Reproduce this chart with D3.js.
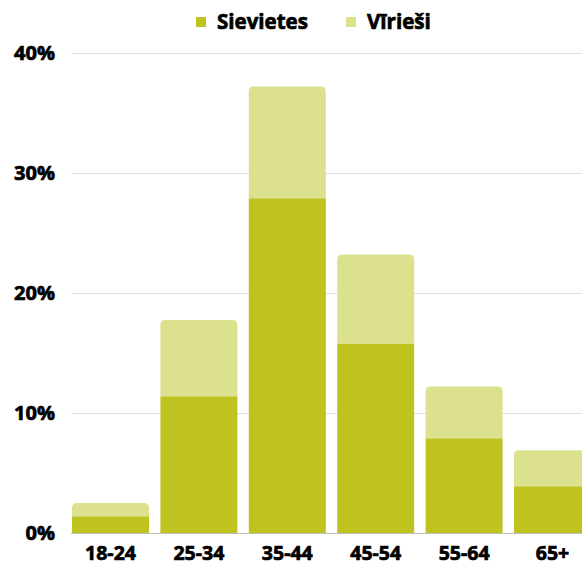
<!DOCTYPE html>
<html>
<head>
<meta charset="utf-8">
<script src="https://cdn.jsdelivr.net/npm/d3@7"></script>
<style>
  body { margin: 0; background: #fff; }
  text { font-family: "Open Sans", sans-serif; font-weight: 700; fill: #000; stroke: #000; stroke-width: 0.7px; }
</style>
</head>
<body>
<div id="chart"></div>
<script>
var WIDTH = 582;
var HEIGHT = 562;

var categories = ["18-24", "25-34", "35-44", "45-54", "55-64", "65+"];
var seriesNames = ["Sievietes", "Vīrieši"];
var sievietes = [1.4, 11.4, 27.9, 15.8, 7.9, 3.9];
var virieši = [1.1, 6.35, 9.3, 7.4, 4.3, 3.0];
var yTicks = [0, 10, 20, 30, 40];
var colors = ["#bfc31f", "#dce18d"];

var data = categories.map(function(c, i) {
  return { cat: c, Sievietes: sievietes[i], "Vīrieši": virieši[i] };
});

var svg = d3.select("#chart").append("svg")
  .attr("width", WIDTH)
  .attr("height", HEIGHT);

var x = d3.scaleBand()
  .domain(categories)
  .range([66.3, 596.7])
  .paddingInner(0.129)
  .paddingOuter(0.0645);

var y = d3.scaleLinear().domain([0, 40]).range([533, 53]);

// grid
svg.append("g")
  .selectAll("line")
  .data(yTicks.slice(1))
  .join("line")
  .attr("x1", 71).attr("x2", WIDTH)
  .attr("y1", function(d) { return y(d) + 0.5; })
  .attr("y2", function(d) { return y(d) + 0.5; })
  .attr("stroke", "#dedede")
  .attr("stroke-width", 1);

// y labels
svg.append("g")
  .selectAll("text")
  .data(yTicks)
  .join("text")
  .attr("x", 55)
  .attr("y", function(d) { return y(d); })
  .attr("dy", "0.36em")
  .attr("text-anchor", "end")
  .style("font-size", "20px")
  .text(function(d) { return d + "%"; });

var stack = d3.stack().keys(seriesNames);
var series = stack(data);

function barPath(x0, w, yTop, yBot, r) {
  return "M" + x0 + "," + yBot +
    "V" + (yTop + r) +
    "Q" + x0 + "," + yTop + " " + (x0 + r) + "," + yTop +
    "H" + (x0 + w - r) +
    "Q" + (x0 + w) + "," + yTop + " " + (x0 + w) + "," + (yTop + r) +
    "V" + yBot + "Z";
}

svg.append("g")
  .selectAll("g")
  .data(series)
  .join("g")
  .attr("fill", function(d, i) { return colors[i]; })
  .selectAll("path")
  .data(function(d) { return d.map(function(p) { return { p: p, key: d.key }; }); })
  .join("path")
  .attr("d", function(d) {
    var x0 = x(d.p.data.cat), w = x.bandwidth();
    var r = d.key === "Vīrieši" ? 5 : 0;
    return barPath(x0, w, y(d.p[1]), y(d.p[0]), r);
  });

// baseline
svg.append("line")
  .attr("x1", 71).attr("x2", WIDTH)
  .attr("y1", 533.5).attr("y2", 533.5)
  .attr("stroke", "#bdbdbd")
  .attr("stroke-width", 1);

// x labels
svg.append("g")
  .selectAll("text")
  .data(categories)
  .join("text")
  .attr("x", function(d) { return x(d) + x.bandwidth() / 2; })
  .attr("y", 553)
  .attr("dy", "0.35em")
  .attr("text-anchor", "middle")
  .style("font-size", "19.5px")
  .text(function(d) { return d; });

// legend
var legendX = [196, 346];
var legend = svg.append("g")
  .selectAll("g")
  .data(seriesNames)
  .join("g")
  .attr("transform", function(d, i) { return "translate(" + legendX[i] + ",17)"; });

legend.append("rect")
  .attr("width", 10).attr("height", 10)
  .attr("fill", function(d, i) { return colors[i]; });

legend.append("text")
  .attr("x", 21)
  .attr("y", 5)
  .attr("dy", "0.36em")
  .style("font-size", "20.5px")
  .text(function(d) { return d; });
</script>
</body>
</html>
